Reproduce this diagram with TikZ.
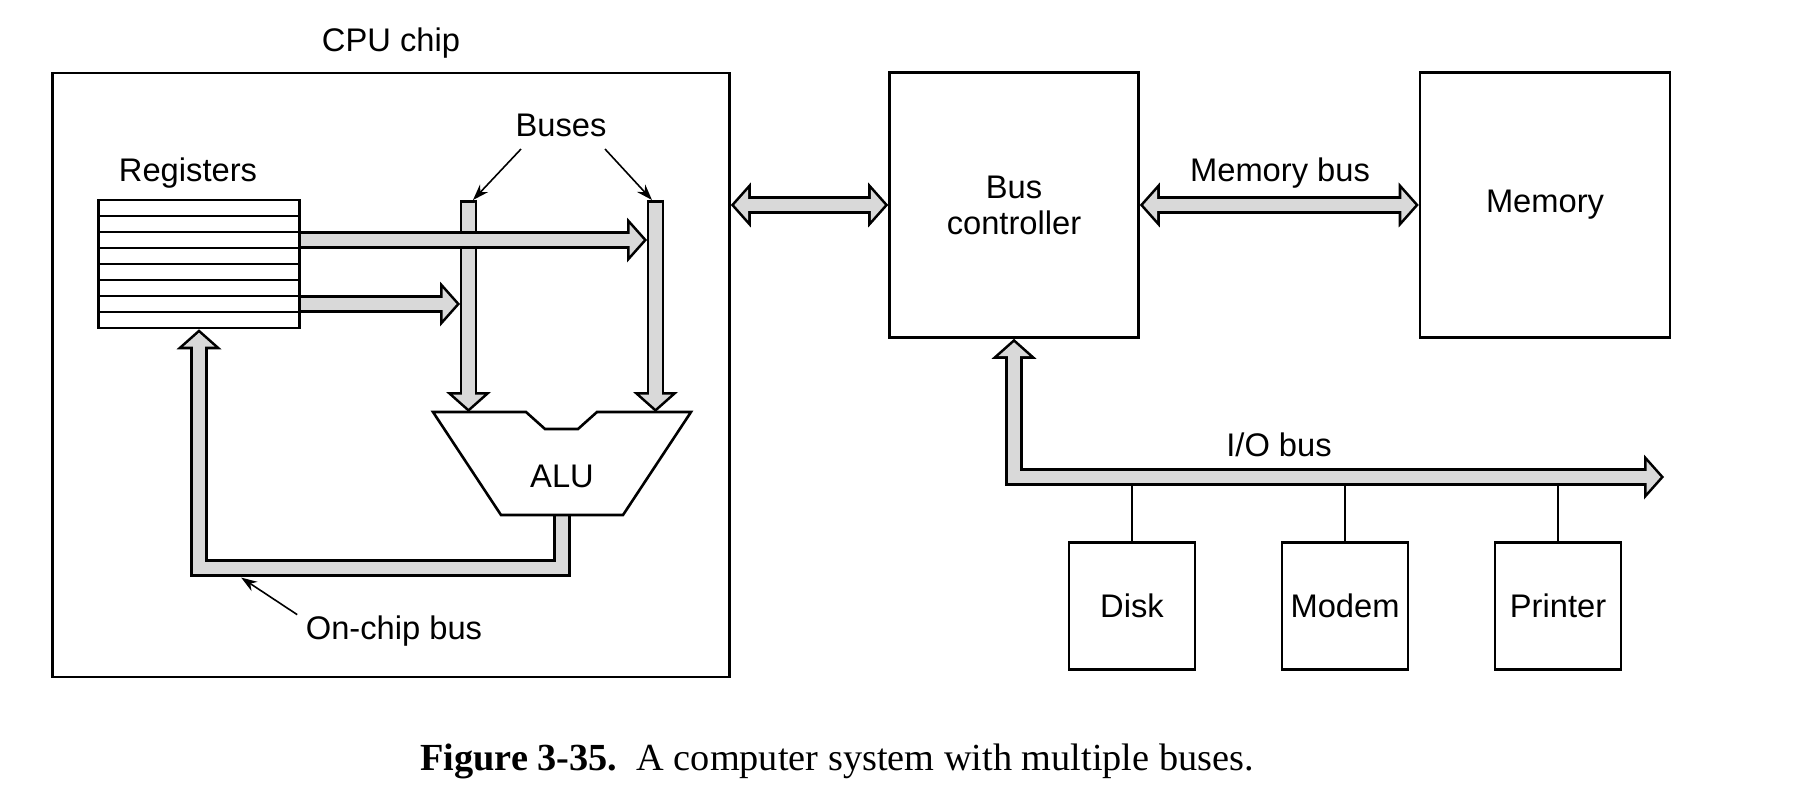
\documentclass[tikz,border=0pt]{standalone}
\usepackage{fontspec}
\setmainfont{Liberation Sans}
\newfontfamily\capfont{Liberation Serif}
\usetikzlibrary{arrows.meta,calc}
\definecolor{busgray}{gray}{0.85}
\tikzset{
  box/.style={draw, line width=0.26mm, inner sep=0pt},
  lbl/.style={anchor=base, inner sep=0pt},
  pointer/.style={line width=0.16mm, -{Stealth[length=1.6mm,width=1.1mm]}},
  outertip/.tip={Triangle[length=2mm,width=4.5mm,line width=0pt]},
  innertip/.tip={Triangle[length=1.39mm,width=3.13mm,line width=0pt]},
  bus/.style={draw=busgray, line width=1.21mm, -innertip, shorten >=0.35mm,
    preaction={draw=black, line width=1.73mm, -outertip, shorten <=0pt, shorten >=0pt},
    postaction={draw=busgray, -, shorten >=1mm}},
  bustwo/.style={draw=busgray, line width=1.21mm, innertip-innertip, shorten <=0.35mm, shorten >=0.35mm,
    preaction={draw=black, line width=1.73mm, outertip-outertip, shorten <=0pt, shorten >=0pt},
    postaction={draw=busgray, -, shorten <=1mm, shorten >=1mm}}
}
\begin{document}
\begin{tikzpicture}[font=\fontsize{9.3}{10.2}\selectfont]
\path[use as bounding box, fill=white] (0,0) rectangle (18.19,7.99);
% CPU chip and registers
\node[box, minimum width=6.77cm, minimum height=6.04cm] (cpu) at (3.91,4.24) {};
\node[lbl] (cpulbl) at (3.91,7.47) {CPU chip};
\node[box, minimum width=2.01cm, minimum height=1.28cm] (regs) at (1.99,5.35) {};
\node[lbl] (regslbl) at (1.88,6.18) {Registers};
\draw[box] (0.985,5.83) -- (2.995,5.83);
\draw[box] (0.985,5.67) -- (2.995,5.67);
\draw[box] (0.985,5.51) -- (2.995,5.51);
\draw[box] (0.985,5.35) -- (2.995,5.35);
\draw[box] (0.985,5.19) -- (2.995,5.19);
\draw[box] (0.985,5.03) -- (2.995,5.03);
\draw[box] (0.985,4.87) -- (2.995,4.87);
% buses inside the chip
\coordinate (busa) at (4.685,5.99);
\coordinate (busb) at (6.555,5.99);
\coordinate (alul) at (4.685,3.87);
\coordinate (alur) at (6.555,3.87);
\coordinate (alubot) at (5.62,2.84);
\coordinate (ra) at (6.47,5.59);
\coordinate (rb) at (4.60,4.95);
\draw[bus, shorten <=0.26mm] (busa) -- (alul);
\draw[bus, shorten <=0.26mm] (busb) -- (alur);
\draw[bus] (regs.east |- ra) -- (ra);
\draw[bus] (regs.east |- rb) -- (rb);
\draw[bus] (alubot) -- ++(0,-0.53) -| (regs.south);
% ALU
\draw[box, fill=white] (4.33,3.87) -- (5.26,3.87) -- (5.45,3.70) -- (5.78,3.70) -- (5.97,3.87)
  -- (6.91,3.87) -- (6.23,2.84) -- (5.01,2.84) -- cycle;
\node[lbl] (alu) at (5.62,3.12) {ALU};
\node[lbl] (buses) at (5.61,6.62) {Buses};
\draw[pointer] ($(buses.south)+(-0.40,-0.11)$) -- ++(-0.48,-0.51);
\draw[pointer] ($(buses.south)+(0.44,-0.11)$) -- ++(0.47,-0.51);
\node[lbl] (onchip) at (3.94,1.60) {On-chip bus};
\draw[pointer] ($(onchip.north west)+(-0.08,0)$) -- ++(-0.56,0.37);
% controller and memory
\node[box, minimum width=2.49cm, minimum height=2.65cm, align=center] (ctrl) at (10.14,5.94) {Bus\\controller};
\node[box, minimum width=2.5cm, minimum height=2.65cm] (mem) at (15.45,5.94) {Memory};
\draw[bustwo] (cpu.east |- ctrl.west) -- (ctrl.west);
\draw[bustwo] (ctrl.east) -- (mem.west);
\node[lbl] (membus) at (12.80,6.17) {Memory bus};
% I/O devices
\node[box, minimum width=1.26cm, minimum height=1.27cm] (disk) at (11.32,1.93) {Disk};
\node[box, minimum width=1.26cm, minimum height=1.27cm] (modem) at (13.45,1.93) {Modem};
\node[box, minimum width=1.26cm, minimum height=1.27cm] (printer) at (15.58,1.93) {Printer};
\coordinate (ioend) at (16.64,3.22);
\draw[line width=0.2mm] (disk.north) -- (disk.north |- ioend);
\draw[line width=0.2mm] (modem.north) -- (modem.north |- ioend);
\draw[line width=0.2mm] (printer.north) -- (printer.north |- ioend);
\draw[bustwo] (ctrl.south) -- (ctrl.south |- ioend) -- (ioend);
\node[lbl] (iobus) at (12.79,3.43) {I/O bus};
% caption
\node[lbl, font=\capfont\fontsize{10.9}{13}\selectfont] (caption) at (8.37,0.29)
  {\textbf{Figure 3-35.}\ \ A computer system with multiple buses.};
\end{tikzpicture}
\end{document}
